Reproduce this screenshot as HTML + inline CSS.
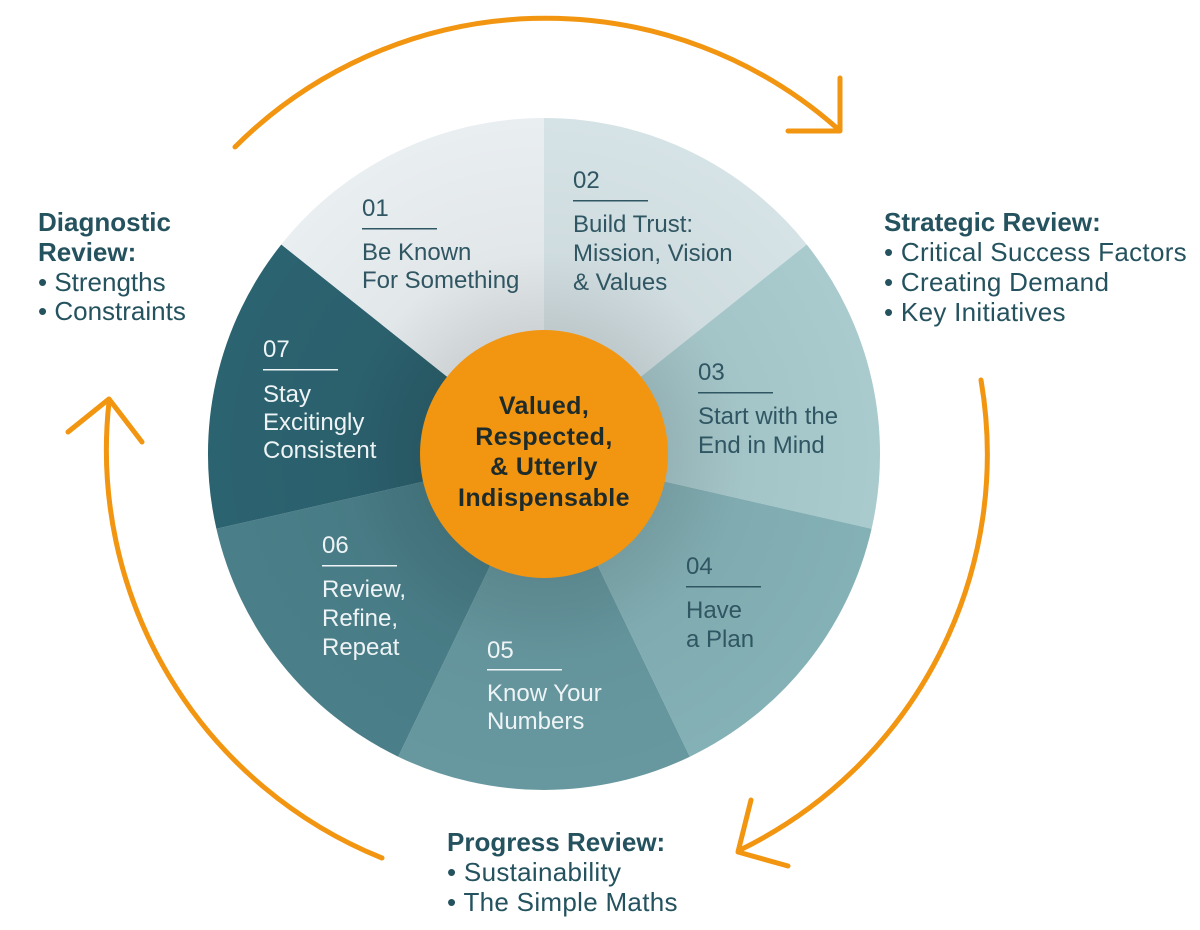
<!DOCTYPE html>
<html><head><meta charset="utf-8"><style>
html,body{margin:0;padding:0;background:#fff;}
svg{display:block;}
text{font-family:"Liberation Sans",sans-serif;}
</style></head><body>
<svg width="1200" height="930" viewBox="0 0 1200 930" xmlns="http://www.w3.org/2000/svg">
<defs>
<radialGradient id="sh" cx="544" cy="454" r="336" gradientUnits="userSpaceOnUse">
<stop offset="0.35" stop-color="#000" stop-opacity="0.12"/>
<stop offset="0.6" stop-color="#000" stop-opacity="0.03"/>
<stop offset="1" stop-color="#000" stop-opacity="0"/>
</radialGradient>
</defs>
<g>
<path d="M544,454 L544,118 A336,336 0 0 1 806.7,244.5 Z" fill="#d6e3e6"/>
<path d="M544,454 L806.7,244.5 A336,336 0 0 1 871.6,528.8 Z" fill="#a9cbce"/>
<path d="M544,454 L871.6,528.8 A336,336 0 0 1 689.8,756.7 Z" fill="#84b1b6"/>
<path d="M544,454 L689.8,756.7 A336,336 0 0 1 398.2,756.7 Z" fill="#6798a0"/>
<path d="M544,454 L398.2,756.7 A336,336 0 0 1 216.4,528.8 Z" fill="#4a7f89"/>
<path d="M544,454 L216.4,528.8 A336,336 0 0 1 281.3,244.5 Z" fill="#2c6370"/>
<path d="M544,454 L281.3,244.5 A336,336 0 0 1 544,118 Z" fill="#e9eef1"/>
<circle cx="544" cy="454" r="336" fill="url(#sh)"/>
</g>
<circle cx="544" cy="454" r="124" fill="#f29510"/>
<g font-size="25" fill="#1e2b2b" text-anchor="middle" font-weight="bold" letter-spacing="0.4">
<text x="544" y="414">Valued,</text>
<text x="544" y="445">Respected,</text>
<text x="544" y="475">&amp; Utterly</text>
<text x="544" y="506">Indispensable</text>
</g>
<g font-size="24" fill="#2f5662">
<text x="362" y="216">01</text><rect x="362" y="228" width="75" height="1.5" fill="#2f5662"/>
<text x="362" y="260">Be Known</text><text x="362" y="288">For Something</text>
<text x="573" y="188">02</text><rect x="573" y="200" width="75" height="1.5" fill="#2f5662"/>
<text x="573" y="232">Build Trust:</text><text x="573" y="261">Mission, Vision</text><text x="573" y="290">&amp; Values</text>
<text x="698" y="380">03</text><rect x="698" y="392" width="75" height="1.5" fill="#2f5662"/>
<text x="698" y="424">Start with the</text><text x="698" y="453">End in Mind</text>
<text x="686" y="574">04</text><rect x="686" y="586" width="75" height="1.5" fill="#2f5662"/>
<text x="686" y="618">Have</text><text x="686" y="647">a Plan</text>
</g>
<g font-size="24" fill="#eef4f5">
<text x="487" y="658">05</text><rect x="487" y="669" width="75" height="1.5" fill="#eef4f5"/>
<text x="487" y="701">Know Your</text><text x="487" y="729">Numbers</text>
<text x="322" y="553">06</text><rect x="322" y="565" width="75" height="1.5" fill="#eef4f5"/>
<text x="322" y="597">Review,</text><text x="322" y="626">Refine,</text><text x="322" y="655">Repeat</text>
<text x="263" y="357">07</text><rect x="263" y="369" width="75" height="1.5" fill="#eef4f5"/>
<text x="263" y="402">Stay</text><text x="263" y="430">Excitingly</text><text x="263" y="458">Consistent</text>
</g>
<g fill="none" stroke="#f29510" stroke-width="5" stroke-linecap="round" stroke-linejoin="round">
<path d="M235,147 A440,440 0 0 1 838,129"/>
<path d="M840,78 L840,131 L788,131"/>
<path d="M981,380 A440,440 0 0 1 740,850"/>
<path d="M751,800 L738,852 L788,866"/>
<path d="M382,858 A440,440 0 0 1 109,402"/>
<path d="M68,432 L109,399 L142,442"/>
</g>
<g font-size="26" fill="#24525e">
<text x="38" y="231" font-weight="bold">Diagnostic</text>
<text x="38" y="261" font-weight="bold">Review:</text>
<text x="38" y="291">• Strengths</text>
<text x="38" y="320">• Constraints</text>
<text x="884" y="231" font-weight="bold">Strategic Review:</text>
<text x="884" y="261" letter-spacing="0.3">• Critical Success Factors</text>
<text x="884" y="291" letter-spacing="0.3">• Creating Demand</text>
<text x="884" y="321" letter-spacing="0.3">• Key Initiatives</text>
<text x="447" y="851" font-weight="bold">Progress Review:</text>
<text x="447" y="881" letter-spacing="0.3">• Sustainability</text>
<text x="447" y="911" letter-spacing="0.3">• The Simple Maths</text>
</g>
</svg>
</body></html>
